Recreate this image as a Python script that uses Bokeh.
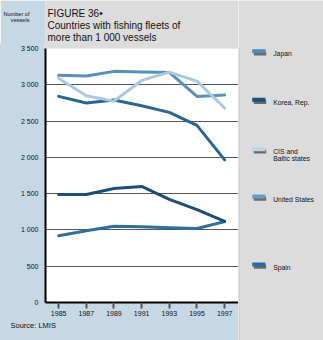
from bokeh.plotting import figure
from bokeh.layouts import row, column
from bokeh.models import FixedTicker, BoxAnnotation, Label, Title
from bokeh.embed import file_html
from bokeh.resources import INLINE

# ---- data ----
years = [1985, 1987, 1989, 1991, 1993, 1995, 1997]
japan = [3130, 3120, 3185, 3175, 3170, 2840, 2860]
korea = [2840, 2750, 2790, 2710, 2620, 2440, 1965]
cis = [3090, 2850, 2775, 3060, 3175, 3050, 2680]
usa = [920, 990, 1050, 1045, 1030, 1020, 1115]
spain = [1487, 1487, 1570, 1600, 1420, 1280, 1118]

series_names = ["Japan", "Korea, Rep.", "CIS and\nBaltic states", "United States", "Spain"]
series_vals = [japan, korea, cis, usa, spain]
line_colors = ["#5a8fb6", "#2a6690", "#aac9de", "#2e6f9b", "#1d4e78"]
swatch_colors = ["#4a8cbd", "#1d4f7a", "#bcd6e8", "#5f9dca", "#2a6ca2"]

y_ticks = [0, 500, 1000, 1500, 2000, 2500, 3000, 3500]
y_tick_labels = ["0", "500", "1 000", "1 500", "2 000", "2 500", "3 000", "3 500"]
x_tick_labels = [str(y) for y in years]

title_lines = ["FIGURE 36\u2022", "Countries with fishing fleets of", "more than 1 000 vessels"]
y_title_lines = ["Number of", "vessels"]
source_text = "Source: LMIS"

FONT = "Liberation Sans"
BLUE_BG = "#c6d8e4"
GRAY_BG = "#dcdcdc"
TXT = "#111111"


def box(f, l, r, t, b, color):
    f.add_layout(BoxAnnotation(left=l, right=r, top=t, bottom=b,
                               left_units="canvas", right_units="canvas",
                               top_units="canvas", bottom_units="canvas",
                               fill_color=color, fill_alpha=1, line_color=None))


def label(f, x, y, text, size, align="left"):
    f.add_layout(Label(x=x, y=y, x_units="canvas", y_units="canvas", text=text,
                       text_font=FONT, text_font_size=size, text_color=TXT,
                       text_align=align, text_baseline="alphabetic"))


# ---- header (frame aligned with chart frame: x 43..238) ----
header = figure(width=238, height=44, x_range=(0, 1), y_range=(44, 0),
                x_axis_type=None, output_backend="svg", toolbar_location=None,
                min_border_left=43, min_border_right=0, min_border_top=0, min_border_bottom=0)
header.background_fill_color = GRAY_BG
header.border_fill_color = BLUE_BG
header.outline_line_color = None
header.grid.visible = False
name_ticks = [13.2, 19.2]
header.yaxis.ticker = FixedTicker(ticks=name_ticks)
header.yaxis.major_label_overrides = {t: s for t, s in zip(name_ticks, y_title_lines)}
header.yaxis.axis_line_color = None
header.yaxis.major_tick_line_color = None
header.yaxis.minor_tick_line_color = None
header.yaxis.major_label_text_font = FONT
header.yaxis.major_label_text_font_size = "5.6px"
header.yaxis.major_label_text_color = TXT
header.yaxis.major_label_standoff = 10
for i, t in enumerate(title_lines):
    label(header, 47, 12.5 + i * 12.4, t, "10px")

# ---- main chart ----
p = figure(width=238, height=296, x_range=(1984.05, 1998.0), y_range=(0, 3500),
           output_backend="svg", toolbar_location=None,
           min_border_left=43, min_border_right=0, min_border_top=4, min_border_bottom=38)
p.border_fill_color = None
p.styles = {"background": f"linear-gradient({GRAY_BG},{GRAY_BG}) 43px 0px / 195px 4px no-repeat, {BLUE_BG}"}
p.background_fill_color = "white"
p.outline_line_color = None

p.xaxis.ticker = FixedTicker(ticks=years)
p.xaxis.major_label_overrides = {y: s for y, s in zip(years, x_tick_labels)}
p.yaxis.ticker = FixedTicker(ticks=y_ticks)
p.yaxis.major_label_overrides = {t: s for t, s in zip(y_ticks, y_tick_labels)}
for ax in (p.xaxis, p.yaxis):
    ax.axis_line_color = "black"
    ax.axis_line_width = 2
    ax.minor_tick_line_color = None
    ax.major_label_text_font = FONT
    ax.major_label_text_font_size = "7px"
    ax.major_label_text_color = TXT
p.xaxis.major_tick_out = 6
p.xaxis.major_tick_in = 0
p.xaxis.major_tick_line_color = "#555555"
p.xaxis.major_tick_line_width = 2
p.xaxis.major_label_standoff = 2
p.yaxis.major_tick_out = 0
p.yaxis.major_tick_in = 0
p.yaxis.major_tick_line_color = None
p.yaxis.major_label_standoff = 7

p.xgrid.grid_line_color = None
p.ygrid.ticker = FixedTicker(ticks=[500, 1000, 1500, 2000, 2500, 3000])
p.ygrid.grid_line_color = "#555555"
p.ygrid.grid_line_width = 1

for vals, col in zip(series_vals, line_colors):
    p.line(years, vals, line_color=col, line_width=3, line_join="round", line_cap="round")

p.add_layout(Title(text=source_text, align="left", offset=-35, standoff=0,
                   text_font=FONT, text_font_size="7.5px", text_font_style="normal",
                   text_color=TXT), "below")

# ---- legend panel ----
legend = figure(width=85, height=340, x_range=(0, 1), y_range=(0, 1),
                x_axis_type=None, y_axis_type=None, output_backend="svg",
                toolbar_location=None, min_border=0)
legend.background_fill_color = GRAY_BG
legend.border_fill_color = GRAY_BG
legend.outline_line_color = None
box(legend, 0, 1.2, 47, 340, "#c9cbcd")
sw_tops = [48.8, 97.3, 146.7, 194.0, 262.0]
txt_base = [53.0, 102.0, 151.0, 198.5, 267.0]
for name, sc, t, tb in zip(series_names, swatch_colors, sw_tops, txt_base):
    box(legend, 15.3, 27.7, t + 2.2, t + 6.3, "#6a6a6a")
    box(legend, 13.7, 27.0, t, t + 4.0, sc)
    for j, s in enumerate(name.split("\n")):
        label(legend, 34.7, tb + j * 7.3, s, "6.8px")

layout = row(column(header, p), legend)
open("out.html", "w").write(file_html(layout, INLINE))
